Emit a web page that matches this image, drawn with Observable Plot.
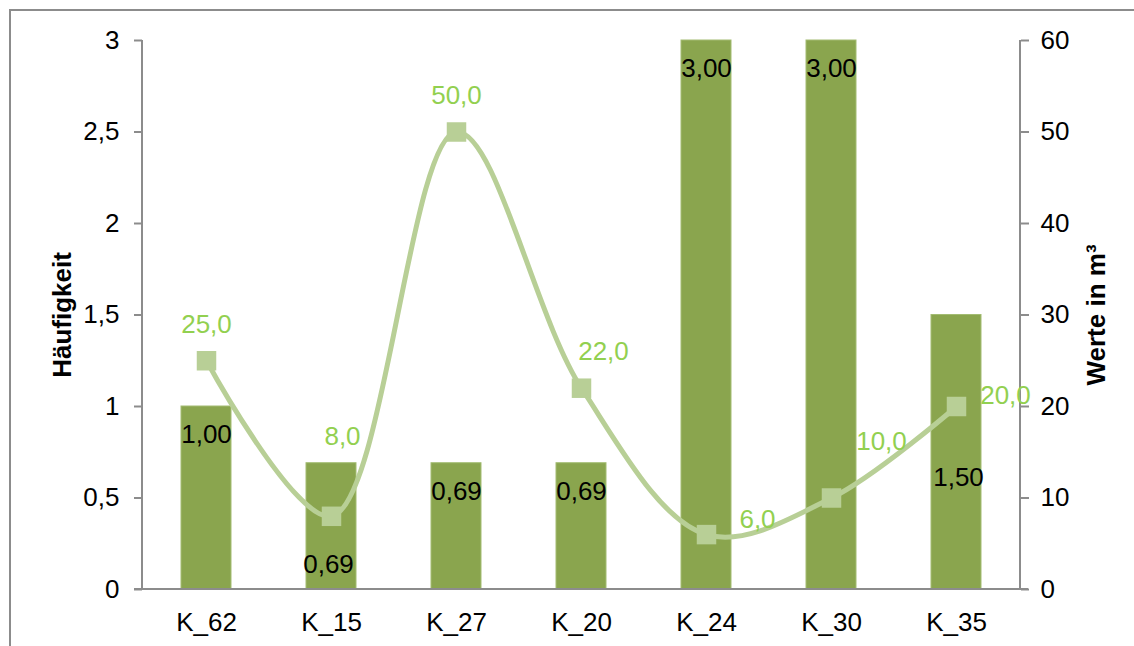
<!DOCTYPE html>
<html>
<head>
<meta charset="utf-8">
<script src="https://cdn.jsdelivr.net/npm/d3@7"></script>
<script src="https://cdn.jsdelivr.net/npm/@observablehq/plot@0.6"></script>
<style>
  html, body { margin: 0; padding: 0; background: #fff; overflow: hidden; }
  #wrap { position: relative; width: 1134px; height: 646px; }
  #border { position: absolute; left: 9px; top: 9px; width: 1200px; height: 800px; border: 2px solid #8c8c8c; box-sizing: border-box; }
  #chart { position: absolute; left: 0; top: 0; }
</style>
</head>
<body>
<div id="wrap"><div id="border"></div><div id="chart"></div></div>
<script>
// ---- data ----
const categories = ["K_62", "K_15", "K_27", "K_20", "K_24", "K_30", "K_35"];
const haeufigkeit = [1.00, 0.69, 0.69, 0.69, 3.00, 3.00, 1.50];
const werte = [25.0, 8.0, 50.0, 22.0, 6.0, 10.0, 20.0];
const leftTicks = [0, 0.5, 1, 1.5, 2, 2.5, 3];
const rightTicks = [0, 10, 20, 30, 40, 50, 60];
const leftTitle = "Häufigkeit";
const rightTitle = "Werte in m³";

// ---- layout / style ----
const ratio = rightTicks[rightTicks.length - 1] / leftTicks[leftTicks.length - 1];
const barColor = "#8aa54e";
const lineColor = "#b8cf96";
const labelGreen = "#92d050";
const axisGray = "#8c8c8c";
const FS = 26;

const data = categories.map((c, i) => ({c, h: haeufigkeit[i], w: werte[i], wy: werte[i] / ratio, i}));
const comma = (s) => s.replace(".", ",");

// per-label pixel offsets for the line value labels (as placed in the original)
const lineLabelOffsets = [[0, -36], [11, -80], [0, -36], [22, -37], [51, -15], [50, -56], [49, -11]];

const axisLines = (index, scales, values, dims) => {
  const g = d3.create("svg:g").attr("stroke", axisGray).attr("stroke-width", 2);
  const yb = dims.height - dims.marginBottom, yt = dims.marginTop;
  const xl = dims.marginLeft, xr = dims.width - dims.marginRight;
  g.append("line").attr("x1", xl).attr("x2", xl).attr("y1", yt).attr("y2", yb);
  g.append("line").attr("x1", xr).attr("x2", xr).attr("y1", yt).attr("y2", yb);
  g.append("line").attr("x1", xl - 8).attr("x2", xr + 8).attr("y1", yb).attr("y2", yb);
  return g.node();
};

const marks = [
  Plot.barY(data, {x: "c", y: "h", fill: barColor, stroke: "#a3bc72", strokeWidth: 1}),
  axisLines,
  Plot.axisY({ticks: leftTicks, tickFormat: d => comma(String(d)), tickSize: 8, tickPadding: 15, stroke: axisGray, strokeWidth: 2, label: null}),
  Plot.axisY({anchor: "right", ticks: leftTicks, tickFormat: d => String(Math.round(d * ratio)), tickSize: 8, tickPadding: 12, stroke: axisGray, strokeWidth: 2, label: null}),
  Plot.axisX({tickSize: 0, tickPadding: 23, label: null}),
  Plot.line(data, {x: "c", y: "wy", stroke: lineColor, strokeWidth: 5, curve: "catmull-rom"}),
  Plot.dot(data, {x: "c", y: "wy", symbol: "square", r: 11, fill: lineColor, stroke: "none"}),
  // bar value labels
  Plot.text(data.filter(d => d.c !== "K_15" && d.c !== "K_35"), {x: "c", y: "h", text: d => comma(d.h.toFixed(2)), dy: 28, fill: "black"}),
  Plot.text(data.filter(d => d.c === "K_15"), {x: "c", y: "h", text: d => comma(d.h.toFixed(2)), dy: 101, dx: -3, fill: "black"}),
  Plot.text(data.filter(d => d.c === "K_35"), {x: "c", y: "h", text: d => comma(d.h.toFixed(2)), dy: 163, dx: 2, fill: "black"}),
  // line value labels
  ...data.map((d, i) => Plot.text([d], {x: "c", y: "wy", text: e => comma(e.w.toFixed(1)), dx: lineLabelOffsets[i][0], dy: lineLabelOffsets[i][1], fill: labelGreen})),
  // axis titles
  Plot.text([leftTitle], {frameAnchor: "left", textAnchor: "middle", rotate: -90, dx: -80, fontWeight: "bold", fill: "black"}),
  Plot.text([rightTitle], {frameAnchor: "right", textAnchor: "middle", rotate: -90, dx: 76, fontWeight: "bold", fill: "black"})
];

const chart = Plot.plot({
  width: 1134,
  height: 646,
  marginLeft: 142,
  marginRight: 114,
  marginTop: 40,
  marginBottom: 57,
  style: {fontFamily: "'Liberation Sans', Arial, sans-serif", fontSize: FS + "px", color: "black", background: "transparent", overflow: "visible"},
  x: {domain: categories, paddingInner: 0.6, paddingOuter: 0.3, axis: null},
  y: {domain: [0, 3], axis: null},
  marks
});
document.getElementById("chart").appendChild(chart);
</script>
</body>
</html>
